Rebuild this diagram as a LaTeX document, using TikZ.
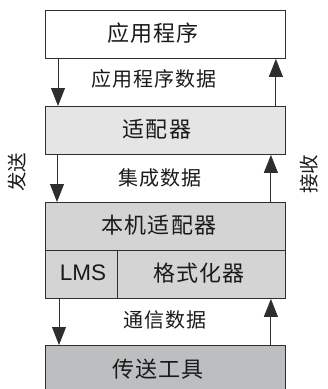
\documentclass[tikz,border=0pt]{standalone}
\usepackage{fontspec}
\newfontfamily\cjkbox[LetterSpace=6]{Noto Sans CJK SC}
\newfontfamily\cjklab[LetterSpace=6]{Noto Sans CJK SC}
\newfontfamily\cjkside{Noto Sans CJK SC}
\newfontfamily\latsans{Liberation Sans}
\usetikzlibrary{arrows.meta}
\definecolor{bordc}{HTML}{2E2E2E}
\definecolor{fillA}{HTML}{E5E5E5}
\definecolor{fillB}{HTML}{D4D4D5}
\definecolor{fillC}{HTML}{BDBEC0}
\definecolor{textc}{HTML}{1A1A1A}
\begin{document}
\begin{tikzpicture}[x=1pt,y=-1pt,
  box/.style={draw=bordc, line width=0.9pt, minimum width=240pt, minimum height=48pt, inner sep=0pt, anchor=north west},
  bt/.style={inner sep=0pt, text=textc, font=\cjkbox\fontsize{22}{26}\selectfont},
  lt/.style={inner sep=0pt, text=textc, font=\cjklab\fontsize{20}{24}\selectfont},
  st/.style={inner sep=0pt, text=textc, rotate=90, font=\cjkside\fontsize{19.5}{23}\selectfont},
  arr/.style={draw=bordc, line width=0.9pt, -{Triangle[width=14pt,length=18pt]}}]
\useasboundingbox (0,0) rectangle (328,389);
% boxes
\node[box, fill=white] (app) at (45,10) {};
\node[box, fill=fillA] (adp) at (45,106) {};
\node[box, fill=fillB] (nat) at (45,202) {};
\node[box, fill=fillB, minimum width=72pt] (lms) at (45,250) {};
\node[box, fill=fillB, minimum width=168pt] (fmt) at (117,250) {};
\node[box, fill=fillC, minimum height=50pt] (trn) at (45,345) {};
% box texts
\node[bt] (appt) at (153,33) {应用程序};
\node[bt] (adpt) at (157,129) {适配器};
\node[bt] (natt) at (159,225) {本机适配器};
\node[inner sep=0pt, text=textc, font=\latsans\fontsize{22.5}{26}\selectfont] (lmst) at (83,273) {LMS};
\node[bt] (fmtt) at (199,273) {格式化器};
\node[bt] (trnt) at (158,369) {传送工具};
% connectors
\draw[arr] ([xshift=13pt]app.south west) -- ([xshift=13pt]adp.north west);
\draw[arr] ([xshift=-10pt]adp.north east) -- ([xshift=-10pt]app.south east);
\draw[arr] ([xshift=12pt]adp.south west) -- ([xshift=12pt]nat.north west);
\draw[arr] ([xshift=-15pt]nat.north east) -- ([xshift=-15pt]adp.south east);
\draw[arr] ([xshift=14pt]lms.south west) -- ([xshift=14pt]trn.north west);
\draw[arr] ([xshift=-15pt]trn.north east) -- ([xshift=-15pt]fmt.south east);
% labels
\node[lt] (l1) at (154,79) {应用程序数据};
\node[lt] (l2) at (160,178) {集成数据};
\node[lt] (l3) at (165,320) {通信数据};
\node[st] (send) at (17,172) {发送};
\node[st] (recv) at (309,174) {接收};
\end{tikzpicture}
\end{document}
